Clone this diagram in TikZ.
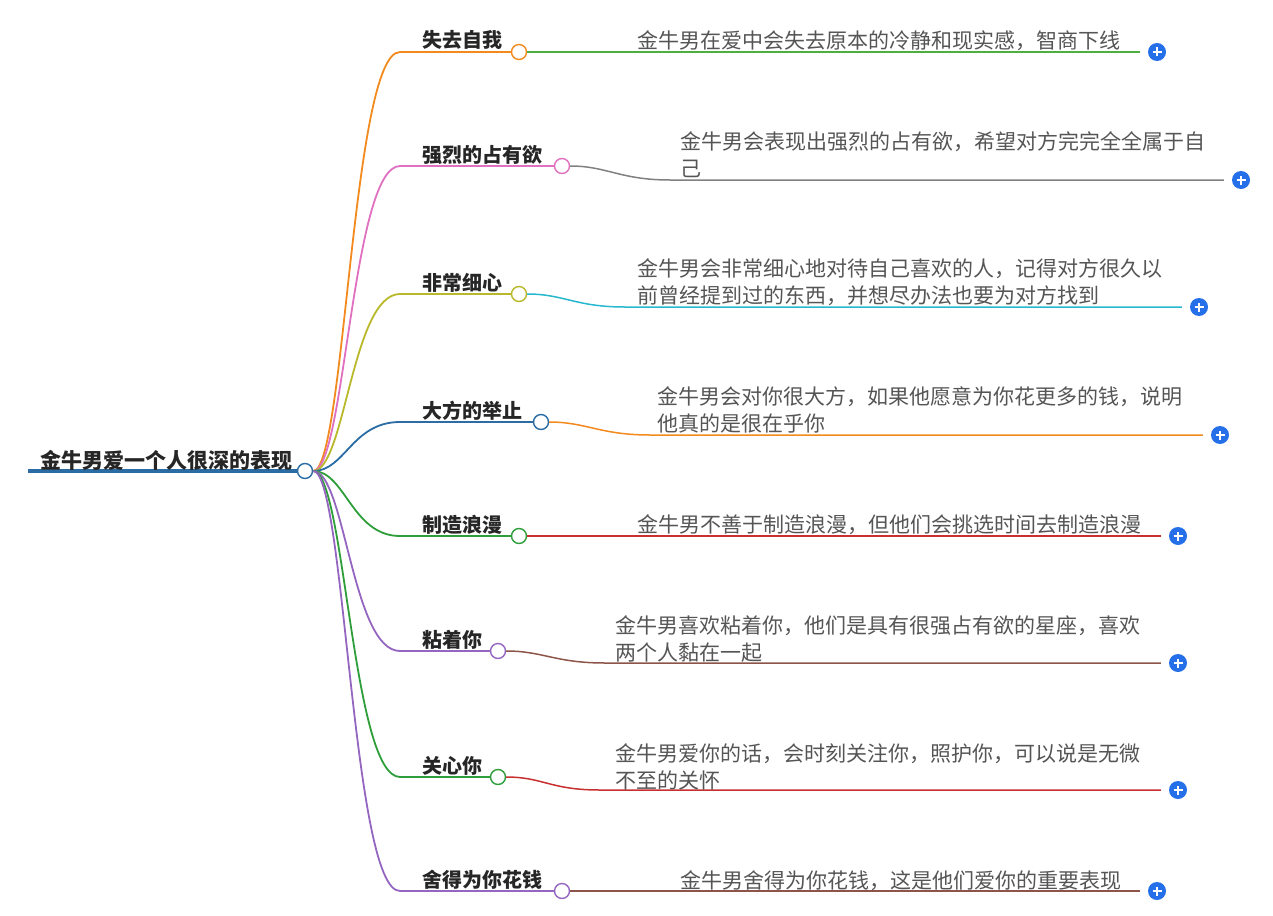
\documentclass[tikz,border=0pt]{standalone}
\usepackage{fontspec}
\setmainfont{Noto Sans CJK SC}
\definecolor{cO}{HTML}{F28A1E}
\definecolor{cP}{HTML}{E070C0}
\definecolor{cY}{HTML}{B8B82A}
\definecolor{cB}{HTML}{2A6CA3}
\definecolor{cG}{HTML}{2E9E3A}
\definecolor{cV}{HTML}{9466C0}
\definecolor{cGr}{HTML}{808080}
\definecolor{cC}{HTML}{27B8D0}
\definecolor{cR}{HTML}{C83030}
\definecolor{cBr}{HTML}{8C5548}
\definecolor{cGn}{HTML}{4CAF40}
\definecolor{plus}{HTML}{2570E8}
\definecolor{txt}{HTML}{555555}
\tikzset{
 lab/.style={anchor=base west,font=\bfseries\fontsize{20}{22}\selectfont,text=black!85,inner sep=0},
 det/.style={anchor=north west,font=\fontsize{21}{27}\selectfont,text=txt,inner sep=0,align=left},
 dot/.style={circle,draw,fill=white,line width=1.4pt,minimum size=15pt,inner sep=0},
 plusic/.style={circle,fill=plus,minimum size=18pt,inner sep=0,
   path picture={\draw[white,line width=1.6pt] ([xshift=-4.5pt]path picture bounding box.center)--++(9pt,0) ([yshift=-4.5pt]path picture bounding box.center)--++(0,9pt);}},
}
\begin{document}
\begin{tikzpicture}[x=1pt,y=-1pt]
\useasboundingbox (0,0) rectangle (1273,915);
\draw[cB,line width=4pt] (28,471)--(298,471);
\node[lab,anchor=base west,font=\bfseries\fontsize{21}{22}\selectfont] (root) at (40,468) {金牛男爱一个人很深的表现};
\node[dot,draw=cB] (r) at (305,471) {};
\foreach \i/\lab/\cx/\cy/\bc/\dc/\ex/\ey/\px/\tx/\ty/\txt in {
 1/失去自我/519/52/cO/cGn/620/52/1157/637/30/{金牛男在爱中会失去原本的冷静和现实感，智商下线},
 2/强烈的占有欲/562/166/cP/cGr/670/180/1241/680/131/{金牛男会表现出强烈的占有欲，希望对方完完全全属于自\\己},
 3/非常细心/519/294/cY/cC/625/307/1199/637/258/{金牛男会非常细心地对待自己喜欢的人，记得对方很久以\\前曾经提到过的东西，并想尽办法也要为对方找到},
 4/大方的举止/541/422/cB/cO/650/435/1220/657/386/{金牛男会对你很大方，如果他愿意为你花更多的钱，说明\\他真的是很在乎你},
 5/制造浪漫/519/536/cG/cR/620/536/1178/637/514/{金牛男不善于制造浪漫，但他们会挑选时间去制造浪漫},
 6/粘着你/498/651/cV/cBr/605/663/1178/615/615/{金牛男喜欢粘着你，他们是具有很强占有欲的星座，喜欢\\两个人黏在一起},
 7/关心你/498/777/cG/cR/600/790/1178/615/743/{金牛男爱你的话，会时刻关注你，照护你，可以说是无微\\不至的关怀},
 8/舍得为你花钱/562/891/cV/cBr/670/891/1157/680/870/{金牛男舍得为你花钱，这是他们爱你的重要表现}}{
  \node[dot,draw=\bc] (c\i) at (\cx,\cy) {};
  \node[lab] (l\i) at (422,\cy-4) {\lab};
  \draw[\bc,line width=1.8pt] (r.east) .. controls (345,471) and (352,\cy) .. (400,\cy) -- (c\i.west);
  \node[plusic] (p\i) at (\px,\ey) {};
  \draw[\dc,line width=1.5pt] (c\i.east) .. controls (\cx+45,\cy) and (\ex-50,\ey) .. (\ex,\ey) -- ([xshift=-8pt]p\i.west);
  \node[det] (t\i) at (\tx,\ty) {\txt};
}
\end{tikzpicture}
\end{document}
